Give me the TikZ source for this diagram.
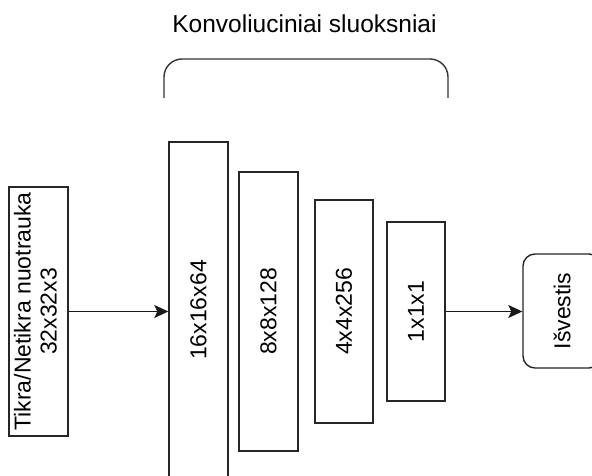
\documentclass[tikz,border=0pt]{standalone}
\usepackage{fontspec}
\setmainfont{Liberation Sans}
\usetikzlibrary{arrows.meta}
\tikzset{
  layer/.style={draw=black!85, line width=1.4pt, rectangle, inner sep=0pt,
    font=\fontsize{23}{26}\selectfont},
  flow/.style={draw=black!90, line width=1.4pt,
    -{Stealth[length=14pt, width=13pt, inset=3pt]}},
  brace/.style={draw=black!80, line width=1.4pt, rounded corners=18pt}
}
\begin{document}
\begin{tikzpicture}[x=1pt, y=1pt]
  \clip (0,0) rectangle (592,476);
  \fill[white] (0,0) rectangle (592,476);

  % title and grouping bracket over the convolution layers
  \node[anchor=base, font=\fontsize{24.5}{28}\selectfont] (title) at (304.5,443)
    {Konvoliuciniai sluoksniai};
  \coordinate (brl) at (164,378);
  \coordinate (brr) at (448,378);
  \draw[brace] (brl) -- (164,417) -- (448,417) -- (brr);

  % input image
  \node[layer, minimum width=59pt, minimum height=249pt] (in) at (38.5,164.5)
    {\rotatebox{90}{\begin{tabular}{@{}c@{}}Tikra/Netikra nuotrauka\\32x32x3\end{tabular}}};

  % convolution layers
  \node[layer, minimum width=59pt, minimum height=336pt] (b1) at (198.5,166)
    {\rotatebox{90}{16x16x64}};
  \node[layer, minimum width=59pt, minimum height=279pt] (b2) at (268.5,164.5)
    {\rotatebox{90}{8x8x128}};
  \node[layer, minimum width=58pt, minimum height=223pt] (b3) at (344,164.5)
    {\rotatebox{90}{4x4x256}};
  \node[layer, minimum width=58pt, minimum height=179pt] (b4) at (416,164.5)
    {\rotatebox{90}{1x1x1}};

  % output
  \node[layer, rounded corners=12pt, minimum width=78pt, minimum height=114pt] (out)
    at (562,165) {\rotatebox{90}{Išvestis}};

  % connectors
  \draw[flow] (in.east) -- (in.east -| b1.west);
  \draw[flow] (b4.east) -- (b4.east -| out.west);
\end{tikzpicture}
\end{document}
